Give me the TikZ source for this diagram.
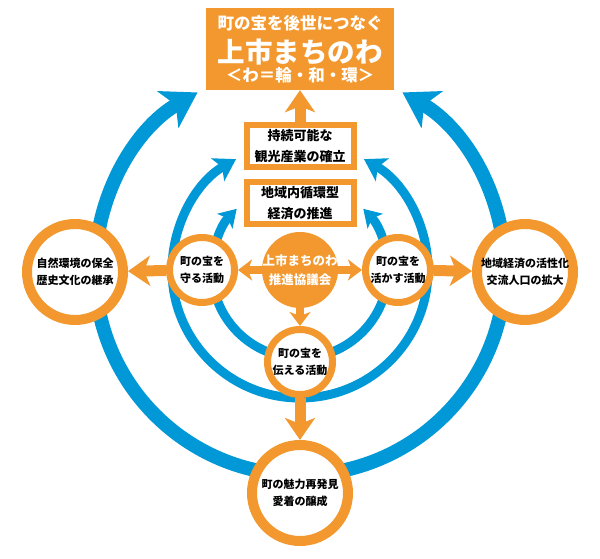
\documentclass[tikz,border=0pt]{standalone}
\usepackage{fontspec}
\setmainfont{Noto Sans CJK JP}
\usetikzlibrary{arrows.meta}
\definecolor{waorange}{RGB}{242,152,46}
\definecolor{wablue}{RGB}{0,152,214}

\begin{document}
\begin{tikzpicture}[
    x=1pt, y=1pt,
    ring/.style={draw=wablue, line width=9pt},
    bigring/.style={draw=wablue, line width=14pt, -{Stealth[length=34pt,width=42pt,inset=9pt]}},
    midring/.style={ring, -{Stealth[length=21pt,width=26pt,inset=5pt]}},
    innring/.style={ring, -{Stealth[length=17pt,width=21pt,inset=4pt]}},
    activity/.style={circle, draw=waorange, line width=7pt, fill=white, minimum size=65pt, inner sep=0pt, align=center, font=\fontsize{11}{17}\selectfont\bfseries},
    outcome/.style={activity, line width=10pt, minimum size=96pt},
    core/.style={circle, fill=waorange, minimum size=76pt, inner sep=0pt, align=center, text=white, font=\fontsize{12.5}{19}\selectfont\bfseries},
    goal/.style={rectangle, draw=waorange, line width=6pt, fill=white, minimum width=107pt, minimum height=42pt, inner sep=0pt, align=center, font=\fontsize{13}{21}\selectfont\bfseries},
    banner/.style={rectangle, fill=waorange, minimum width=188pt, minimum height=82pt, inner sep=0pt, text=white, font=\fontsize{16.5}{18}\selectfont\bfseries},
    flow/.style={draw=waorange, line width=11pt, -{Stealth[length=22pt,width=30pt,inset=6pt]}},
    shortflow/.style={draw=waorange, line width=8pt, -{Stealth[length=14pt,width=21pt,inset=4pt]}}
]
\useasboundingbox (0,0) rectangle (600,559);

% rings round the council
\coordinate (hub) at (300,289);
\draw[bigring] ([shift={(270:205pt)}]hub) arc[start angle=270, end angle=120, radius=205pt];
\draw[bigring] ([shift={(-90:205pt)}]hub) arc[start angle=-90, end angle=60, radius=205pt];
\draw[midring] ([shift={(270:128pt)}]hub) arc[start angle=270, end angle=120, radius=128pt];
\draw[midring] ([shift={(-90:128pt)}]hub) arc[start angle=-90, end angle=60, radius=128pt];
\draw[innring] ([shift={(270:88pt)}]hub) arc[start angle=270, end angle=136, radius=88pt];
\draw[innring] ([shift={(-90:88pt)}]hub) arc[start angle=-90, end angle=44, radius=88pt];

\node[banner] (title) at (300,510) {\raisebox{-6.5pt}[0pt][0pt]{\begin{tabular}{@{}c@{}}
町の宝を後世につなぐ\\[4pt]
{\fontsize{27.5}{20}\selectfont 上市まちのわ}\\
＜わ＝輪・和・環＞
\end{tabular}}};
\node[goal] (tourism) at (300,413) {持続可能な\\観光産業の確立};
\node[goal] (economy) at (300,355.5) {地域内循環型\\経済の推進};

\node[core] (council) at (hub) {\makebox[60pt]{上市まちのわ}\\推進協議会};
\node[activity] (protect) at (202,289) {町の宝を\\守る活動};
\node[activity] (utilize) at (398,289) {町の宝を\\活かす活動};
\node[activity] (convey) at (300,197) {町の宝を\\伝える活動};

\node[outcome] (nature) at (75,287) {自然環境の保全\\歴史文化の継承};
\node[outcome] (vitality) at (525,287) {地域経済の活性化\\交流人口の拡大};
\node[outcome] (pride) at (300,66) {町の魅力再発見\\愛着の醸成};

\draw[shortflow] (council) -- (protect);
\draw[shortflow] (council) -- (utilize);
\draw[shortflow] (council) -- (convey);
\draw[flow] (protect) -- (nature);
\draw[flow] (utilize) -- (vitality);
\draw[flow] (convey) -- (pride);
\draw[flow] (tourism) -- (title);
\end{tikzpicture}
\end{document}
